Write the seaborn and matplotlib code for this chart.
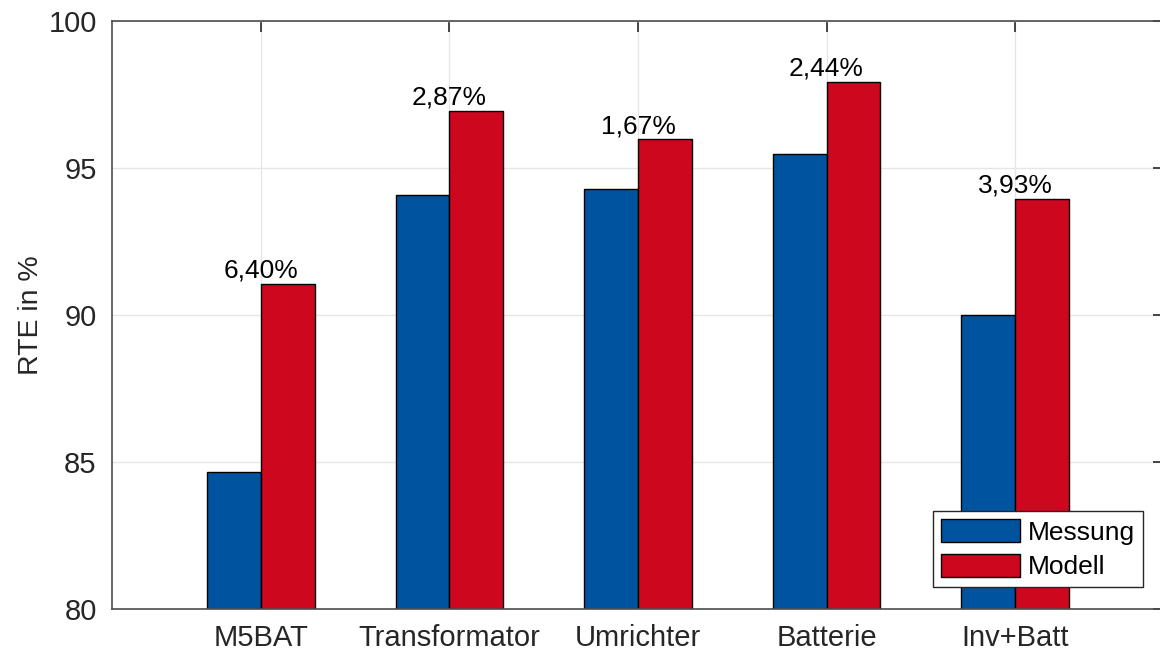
import matplotlib
matplotlib.use("Agg")
import matplotlib.pyplot as plt
import seaborn as sns
import pandas as pd

# values
kategorien = ["M5BAT", "Transformator", "Umrichter", "Batterie", "Inv+Batt"]
messung = [84.67, 94.07, 94.30, 95.47, 90.00]
modell = [91.07, 96.94, 95.97, 97.91, 93.93]
abweichung = ["6,40%", "2,87%", "1,67%", "2,44%", "3,93%"]

df = pd.DataFrame({
    "Kategorie": kategorien * 2,
    "RTE": messung + modell,
    "Serie": ["Messung"] * len(kategorien) + ["Modell"] * len(kategorien),
})

sns.set_style("white")
plt.rcParams["font.family"] = ["Liberation Sans", "DejaVu Sans"]

fig = plt.figure(figsize=(11.6, 6.57), dpi=100)
ax = fig.add_axes([112 / 1160, 1 - 609 / 657, (1164 - 112) / 1160, (609 - 21) / 657])

sns.barplot(data=df, x="Kategorie", y="RTE", hue="Serie", ax=ax,
            palette={"Messung": "#00549F", "Modell": "#CC071E"},
            width=0.57, edgecolor="black", linewidth=1.0, saturation=1)

# percent labels above the groups
for i, txt in enumerate(abweichung):
    ax.text(i, modell[i] + 0.05, txt, ha="center", va="bottom",
            fontsize=19, color="black")

ax.set_ylim(80, 100)
ax.set_xlim(-0.79, 4.79)
ax.set_yticks([80, 85, 90, 95, 100])
ax.set_xlabel("")
ax.set_ylabel("RTE in %", fontsize=20.5, color="#262626", labelpad=3)

ax.set_axisbelow(True)
ax.grid(True, color="#E6E6E6", linewidth=1.0)
ax.tick_params(axis="both", direction="in", length=8, width=1.2,
               labelsize=21, colors="#262626", top=True, right=True, pad=11)
for sp in ax.spines.values():
    sp.set_color("#4D4D4D")
    sp.set_linewidth(1.2)

leg = ax.legend(loc="lower right", fontsize=19, frameon=True, fancybox=False,
                framealpha=1, edgecolor="#262626", handlelength=3.0,
                handleheight=0.95, borderpad=0.3, labelspacing=0.35,
                handletextpad=0.3, borderaxespad=0,
                bbox_to_anchor=(0.98, 0.037))
leg.get_frame().set_linewidth(1.0)
for t in leg.get_texts():
    t.set_color("black")

fig.savefig("out.png", dpi=100)
